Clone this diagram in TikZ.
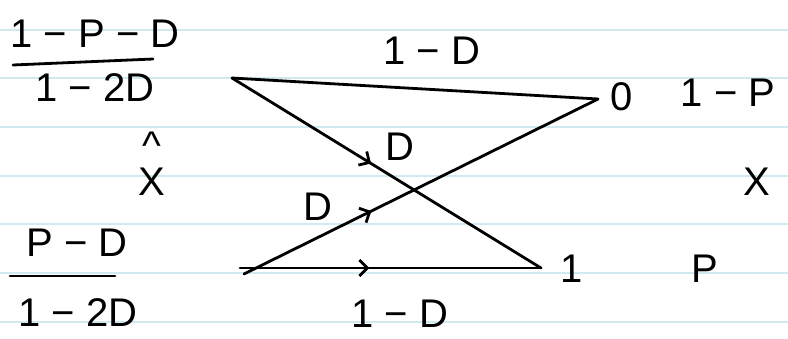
\documentclass[tikz,border=0pt]{standalone}
\usepackage{fontspec}
\setmainfont{Liberation Sans}
\usetikzlibrary{arrows.meta,decorations.markings}
\definecolor{ruleblue}{RGB}{208,234,240}
\begin{document}
\begin{tikzpicture}[x=1pt,y=-1pt,
  ink/.style={line width=2.8pt, line cap=round, draw=black},
  lbl/.style={font=\fontsize{40}{44}\selectfont, inner sep=0pt, anchor=base},
  midarrow/.style={postaction={decorate}, decoration={markings,
      mark=at position #1 with {\arrow{Straight Barb[length=8pt,width=16pt,line width=2.8pt]}}}},
  ruled/.style={line width=1.3pt, draw=ruleblue}]
\useasboundingbox (0,0) rectangle (788,338);
\fill[white] (0,0) rectangle (788,338);
% ruled paper lines
\foreach \yy in {30,78,127,176,224,273,322}
  \draw[ruled] (0,\yy) -- (788,\yy);

% endpoints
\coordinate (a0) at (232,78);
\coordinate (a1) at (240,268);
\coordinate (b0) at (598,99);
\coordinate (b1) at (541,268);

% channel edges
\draw[ink] (a0) -- (b0);
\draw[ink, midarrow=0.45] (a0) -- (b1);
\draw[ink, midarrow=0.36] ([shift={(4,6)}]a1) -- (b0);
\draw[ink, midarrow=0.43] (a1) -- (b1);

% left fractions
\node[lbl] (n1) at (95,47) {1 − P − D};
\coordinate (bar1l) at (13,65);
\coordinate (bar1r) at (153,59);
\draw[ink] (bar1l) -- (bar1r);
\node[lbl] (d1) at (95,101) {1 − 2D};

\node[lbl, align=center] (xhat) at (152,195) {\textasciicircum\\[-8pt]X};

\node[lbl] (n2) at (77,256) {P − D};
\coordinate (bar2l) at (10,276);
\coordinate (bar2r) at (115,276);
\draw[ink] (bar2l) -- (bar2r);
\node[lbl] (d2) at (78,326) {1 − 2D};

% edge labels
\node[lbl] (ltop) at (432,64) {1 − D};
\node[lbl] (ldiag) at (400,160) {D};
\node[lbl] (lrise) at (318,220) {D};
\node[lbl] (lbot) at (400,327) {1 − D};

% right side
\node[lbl] (o0) at (622,110) {0};
\node[lbl] (p0) at (728,106) {1 − P};
\node[lbl] (xr) at (757,195) {X};
\node[lbl] (o1) at (572,282) {1};
\node[lbl] (p1) at (705,282) {P};
\end{tikzpicture}
\end{document}
